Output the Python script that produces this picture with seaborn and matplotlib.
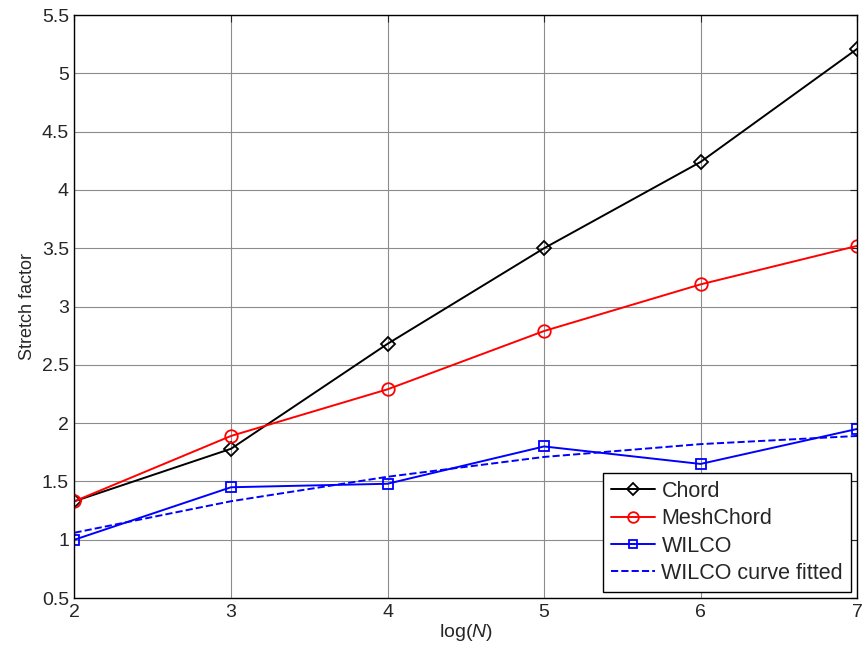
import matplotlib
matplotlib.use('Agg')
import matplotlib.pyplot as plt
import seaborn as sns
import pandas as pd

# values
log_n = [2, 3, 4, 5, 6, 7]
chord = [1.33, 1.78, 2.68, 3.50, 4.24, 5.21]
meshchord = [1.33, 1.89, 2.29, 2.79, 3.19, 3.52]
wilco = [1.00, 1.45, 1.48, 1.80, 1.65, 1.95]
wilco_fit = [1.06, 1.33, 1.54, 1.71, 1.82, 1.89]

y_ticks = [0.5, 1, 1.5, 2, 2.5, 3, 3.5, 4, 4.5, 5, 5.5]
y_tick_labels = ['0.5', '1', '1.5', '2', '2.5', '3', '3.5', '4', '4.5', '5', '5.5']

sns.set_style('white')
plt.rcParams['font.family'] = ['Liberation Sans', 'DejaVu Sans']
plt.rcParams['mathtext.fontset'] = 'custom'
plt.rcParams['mathtext.it'] = 'Liberation Sans:italic'
plt.rcParams['mathtext.rm'] = 'Liberation Sans'

df = pd.DataFrame({'logN': log_n, 'Chord': chord, 'MeshChord': meshchord,
                   'WILCO': wilco, 'WILCO curve fitted': wilco_fit})

fig = plt.figure(figsize=(8.64, 6.55), dpi=100)
ax = fig.add_axes([0.0862, 0.087, 0.9058, 0.890])

lw = 1.4
sns.lineplot(data=df, x='logN', y='Chord', ax=ax, color='black', lw=lw,
             marker='D', markersize=7, markerfacecolor='none',
             markeredgecolor='black', markeredgewidth=1.3, label='Chord')
sns.lineplot(data=df, x='logN', y='MeshChord', ax=ax, color='red', lw=lw,
             marker='o', markersize=9, markerfacecolor='none',
             markeredgecolor='red', markeredgewidth=1.3, label='MeshChord')
sns.lineplot(data=df, x='logN', y='WILCO', ax=ax, color='blue', lw=lw,
             marker='s', markersize=7.5, markerfacecolor='none',
             markeredgecolor='blue', markeredgewidth=1.3, label='WILCO')
sns.lineplot(data=df, x='logN', y='WILCO curve fitted', ax=ax, color='blue',
             lw=lw, linestyle='--', label='WILCO curve fitted')

ax.set_xlim(2, 7)
ax.set_ylim(0.5, 5.5)
ax.set_xticks(log_n)
ax.set_yticks(y_ticks)
ax.set_yticklabels(y_tick_labels)
ax.grid(True, color='0.55', lw=0.8)
ax.tick_params(direction='in', top=True, right=True, labelsize=14,
               length=5, width=0.8, pad=4)
for s in ax.spines.values():
    s.set_color('black')
    s.set_linewidth(1.0)

ax.set_xlabel('log($\\mathit{N}$)', fontsize=14, labelpad=1)
ax.set_ylabel('Stretch factor', fontsize=13, labelpad=4)

leg = ax.legend(loc='lower right', fontsize=15.5, frameon=True, fancybox=False,
                edgecolor='black', framealpha=1, handlelength=2.05,
                borderaxespad=0.3, labelspacing=0.3, borderpad=0.35,
                handletextpad=0.3, markerscale=0.85)
leg.get_frame().set_linewidth(1.0)

fig.savefig('out.png', dpi=100)
